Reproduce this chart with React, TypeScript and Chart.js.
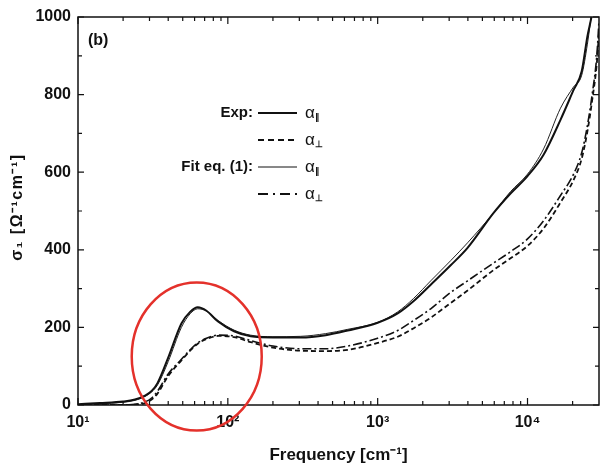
import React, { useEffect, useRef } from "react";
import { Chart, registerables } from "chart.js";

Chart.register(...registerables);

// Frequency grid [cm^-1]
const freq = [10, 14, 20, 24, 28, 31, 34, 40, 49, 56, 63, 72, 86, 110, 142, 200, 307, 450, 631, 1000, 1360, 1740, 2260, 3070, 3980, 5940, 7700, 10000, 12800, 16600, 20300, 23000, 25100, 27000, 29000, 30000];

// sigma_1 values [Ohm^-1 cm^-1]
const expPar = [2, 5, 9, 14, 24, 36, 57, 122, 210, 240, 252, 243, 215, 190, 177, 174, 174, 180, 192, 212, 236, 268, 310, 360, 405, 495, 545, 590, 645, 735, 812, 860, 950, 1010, 1100, 1150];
const fitPar = [1, 3, 7, 12, 22, 34, 52, 112, 200, 235, 248, 242, 218, 193, 180, 176, 177, 184, 195, 213, 240, 275, 320, 372, 418, 495, 550, 595, 660, 765, 820, 850, 930, 1020, 1100, 1150];
const expPerp = [0, 0, 0, 1, 5, 14, 30, 75, 115, 140, 158, 170, 178, 175, 162, 148, 140, 139, 142, 160, 176, 198, 225, 263, 295, 348, 378, 410, 455, 522, 580, 635, 705, 785, 880, 960];
const fitPerp = [0, 0, 0, 2, 8, 18, 36, 80, 118, 142, 160, 172, 180, 178, 166, 152, 145, 145, 152, 172, 192, 218, 248, 290, 320, 366, 395, 428, 475, 540, 595, 650, 720, 800, 900, 990];

const xTickValues = [10, 100, 1000, 10000];
const xTickLabels = ["10¹", "10²", "10³", "10⁴"];
const xMinorValues = [20, 30, 40, 50, 60, 70, 80, 90, 200, 300, 400, 500, 600, 700, 800, 900, 2000, 3000, 4000, 5000, 6000, 7000, 8000, 9000, 20000];
const yTickValues = [0, 200, 400, 600, 800, 1000];
const yMinorValues = [100, 300, 500, 700, 900];

const legendLabels = ["Exp:", "", "Fit eq. (1):", ""];
const legendSubs = ["∥", "⊥", "∥", "⊥"];
const legendDashes: number[][] = [[], [6, 4], [], [10, 5, 2, 5]];
const legendWidths = [2, 1.8, 1, 1.8];

const yTitle = "σ₁ [Ω⁻¹cm⁻¹]";
const xTitle = "Frequency [cm⁻¹]";

const FONT = "'Liberation Sans', Arial, sans-serif";

function App() {
  const ref = useRef<HTMLCanvasElement | null>(null);

  useEffect(() => {
    document.body.style.margin = "0";
    const canvas = ref.current;
    if (!canvas) return;

    const mk = (vals: number[]) => freq.map((f, i) => ({ x: f, y: vals[i] }));

    const decor = {
      id: "decor",
      afterDraw(chart: any) {
        const { ctx, chartArea } = chart;
        const xs = chart.scales.x;
        const ys = chart.scales.y;
        const { left, right, top, bottom } = chartArea;
        ctx.save();
        ctx.strokeStyle = "#111";
        ctx.lineWidth = 1.5;
        ctx.strokeRect(left, top, right - left, bottom - top);

        ctx.lineWidth = 1.2;
        ctx.beginPath();
        yTickValues.forEach((v) => {
          const p = ys.getPixelForValue(v);
          ctx.moveTo(left, p); ctx.lineTo(left + 6, p);
          ctx.moveTo(right, p); ctx.lineTo(right - 6, p);
        });
        yMinorValues.forEach((v) => {
          const p = ys.getPixelForValue(v);
          ctx.moveTo(left, p); ctx.lineTo(left + 4, p);
          ctx.moveTo(right, p); ctx.lineTo(right - 4, p);
        });
        xTickValues.forEach((v) => {
          const p = xs.getPixelForValue(v);
          ctx.moveTo(p, bottom); ctx.lineTo(p, bottom - 7);
          ctx.moveTo(p, top); ctx.lineTo(p, top + 7);
        });
        xMinorValues.forEach((v) => {
          const p = xs.getPixelForValue(v);
          ctx.moveTo(p, bottom); ctx.lineTo(p, bottom - 4);
          ctx.moveTo(p, top); ctx.lineTo(p, top + 4);
        });
        ctx.stroke();

        // panel label
        ctx.fillStyle = "#111";
        ctx.font = `bold 16px ${FONT}`;
        ctx.textAlign = "left";
        ctx.textBaseline = "middle";
        ctx.fillText("(b)", left + 10, top + 24);

        // y-axis title
        ctx.save();
        ctx.translate(18, 207);
        ctx.rotate(-Math.PI / 2);
        ctx.textAlign = "center";
        ctx.font = `bold 16px ${FONT}`;
        (ctx as any).letterSpacing = "1.5px";
        ctx.fillText(yTitle, 0, 0);
        ctx.restore();

        // legend
        const rowY = [113, 140, 167, 194];
        legendLabels.forEach((lab, i) => {
          const y = rowY[i];
          ctx.font = `bold 15px ${FONT}`;
          ctx.textAlign = "right";
          ctx.fillStyle = "#111";
          if (lab) ctx.fillText(lab, 253, y);
          ctx.beginPath();
          ctx.setLineDash(legendDashes[i]);
          ctx.lineWidth = legendWidths[i];
          ctx.moveTo(258, y);
          ctx.lineTo(297, y);
          ctx.stroke();
          ctx.setLineDash([]);
          ctx.textAlign = "left";
          ctx.font = `17px ${FONT}`;
          ctx.fillText("α", 305, y);
          ctx.font = `bold 9px ${FONT}`;
          ctx.fillText(legendSubs[i], 315, y + 5);
        });

        // red circle annotation
        const cx = xs.getPixelForValue(62);
        const cy = ys.getPixelForValue(125);
        ctx.beginPath();
        ctx.strokeStyle = "#e4312b";
        ctx.lineWidth = 2.5;
        ctx.ellipse(cx, cy, 65, 74, 0, 0, Math.PI * 2);
        ctx.stroke();
        ctx.restore();
      },
    };

    const chart = new Chart(canvas, {
      type: "line",
      data: {
        datasets: [
          { label: "Exp α∥", data: mk(expPar), borderColor: "#111", borderWidth: 2, pointRadius: 0, cubicInterpolationMode: "monotone" },
          { label: "Exp α⊥", data: mk(expPerp), borderColor: "#111", borderWidth: 1.8, borderDash: [5, 3], pointRadius: 0, cubicInterpolationMode: "monotone" },
          { label: "Fit α∥", data: mk(fitPar), borderColor: "#222", borderWidth: 1, pointRadius: 0, cubicInterpolationMode: "monotone" },
          { label: "Fit α⊥", data: mk(fitPerp), borderColor: "#111", borderWidth: 1.6, borderDash: [9, 3, 2, 3], pointRadius: 0, cubicInterpolationMode: "monotone" },
        ],
      },
      options: {
        responsive: false,
        animation: false,
        layout: { padding: { top: 17, right: 4, left: 0, bottom: 0 } },
        plugins: { legend: { display: false }, tooltip: { enabled: false } },
        scales: {
          x: {
            type: "logarithmic",
            min: 10,
            max: 30000,
            grid: { display: false, drawTicks: false },
            border: { display: false },
            afterBuildTicks: (s: any) => {
              s.ticks = xTickValues.map((v) => ({ value: v }));
            },
            afterFit: (s: any) => { s.height = 60; },
            ticks: {
              autoSkip: false,
              maxRotation: 0,
              padding: 8,
              color: "#111",
              font: { family: FONT, size: 16, weight: "bold" },
              callback: (v: any) => {
                const i = xTickValues.indexOf(Number(v));
                return i >= 0 ? xTickLabels[i] : "";
              },
            },
            title: {
              display: true,
              text: xTitle,
              color: "#111",
              font: { family: FONT, size: 17, weight: "bold", lineHeight: 1.1 },
              padding: { top: 0, bottom: 0 },
            },
          },
          y: {
            type: "linear",
            min: 0,
            max: 1000,
            grid: { display: false, drawTicks: false },
            border: { display: false },
            afterBuildTicks: (s: any) => {
              s.ticks = yTickValues.map((v) => ({ value: v }));
            },
            afterFit: (s: any) => { s.width = 78; },
            ticks: {
              padding: 7,
              color: "#111",
              font: { family: FONT, size: 16, weight: "bold" },
              callback: (v: any) => String(v),
            },
          },
        },
      },
      plugins: [decor],
    } as any);

    return () => chart.destroy();
  }, []);

  return (
    <div style={{ width: 603, height: 465, background: "#fff" }}>
      <canvas ref={ref} width={603} height={465} />
    </div>
  );
}

export default App;
